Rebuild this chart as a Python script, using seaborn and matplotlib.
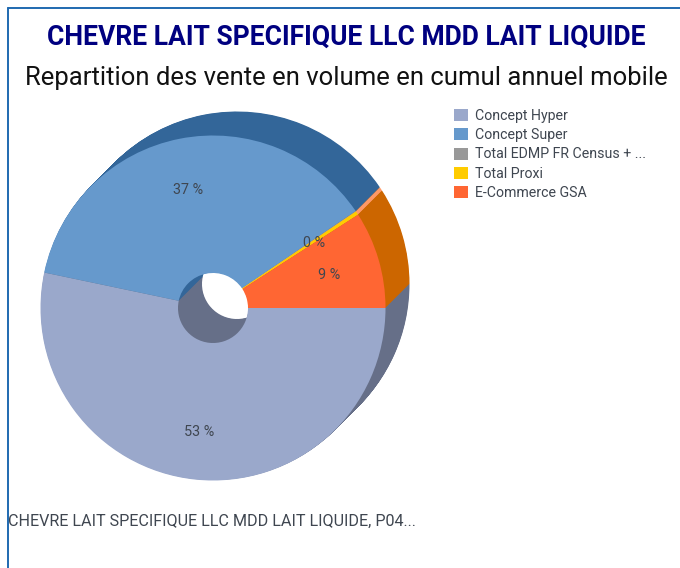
import matplotlib
matplotlib.use("Agg")
import matplotlib.pyplot as plt
import seaborn as sns

categories = ["Concept Hyper", "Concept Super", "Total EDMP FR Census + ...", "Total Proxi", "E-Commerce GSA"]
shares = [53.3, 37.2, 0.05, 0.35, 9.1]
front_colors = ["#9AA8CB", "#6699CC", "#999999", "#FFCC00", "#FF6633"]
shadow_colors = ["#666F88", "#336699", "#666666", "#FF9966", "#CC6600"]
title = "CHEVRE LAIT SPECIFIQUE LLC MDD LAIT LIQUIDE"
subtitle = "Repartition des vente en volume en cumul annuel mobile"
footer = "CHEVRE LAIT SPECIFIQUE LLC MDD LAIT LIQUIDE, P04..."

sns.set_theme(style="white")
plt.rcParams["font.family"] = ["Roboto", "DejaVu Sans"]

W, H = 680, 568
fig = plt.figure(figsize=(W / 100, H / 100), dpi=100, facecolor="white")
ax = fig.add_axes([0, 0, 1, 1])
R, r = 172.5, 35
cx, cy = 213, H - 308
depth = 24
ring = dict(width=R - r, linewidth=0)

# extruded side of the pie: the same slices swept from back to front
for k in range(2 * depth, 0, -1):
    ax.pie(shares, colors=shadow_colors, startangle=0, counterclock=False,
           radius=R, center=(cx + k / 2, cy + k / 2), wedgeprops=ring, frame=True)

wedges, _, autotexts = ax.pie(
    shares, colors=front_colors, startangle=0, counterclock=False,
    radius=R, center=(cx, cy), wedgeprops=ring, frame=True,
    autopct=lambda p: f"{p:.0f} %" if p > 0.2 else "", pctdistance=0.71,
    textprops=dict(color="#3F4650", fontsize=10.4))
for t in autotexts:
    x, y = t.get_position()
    t.set_position((x - 1, y - 2))

ax.set_xlim(0, W)
ax.set_ylim(0, H)
ax.set_aspect("equal")
ax.set_axis_off()

fig.text(346 / W, 1 - 37 / H, title, ha="center", va="center", color="#000080",
         fontsize=19.1, fontweight="bold")
fig.text(346 / W, 1 - 78 / H, subtitle, ha="center", va="center", color="#111111",
         fontsize=18.45)
fig.text(8 / W, 1 - 521 / H, footer, ha="left", va="center", color="#3F4650", fontsize=11.65)

ax.legend(wedges, categories, loc="upper left", bbox_to_anchor=(454.5 / W, 1 - 109 / H),
          frameon=False, fontsize=10.2, labelcolor="#3F4650", handlelength=0.95, handleheight=0.95,
          handletextpad=0.5, labelspacing=0.37, borderpad=0, borderaxespad=0)

line = "#1F69B0"
ax.plot([7.5, 7.5], [0, H - 8], color=line, lw=1.4, clip_on=False)
ax.plot([7.5, W], [H - 8, H - 8], color=line, lw=1.4, clip_on=False)

fig.savefig("out.png", dpi=100, facecolor="white")
